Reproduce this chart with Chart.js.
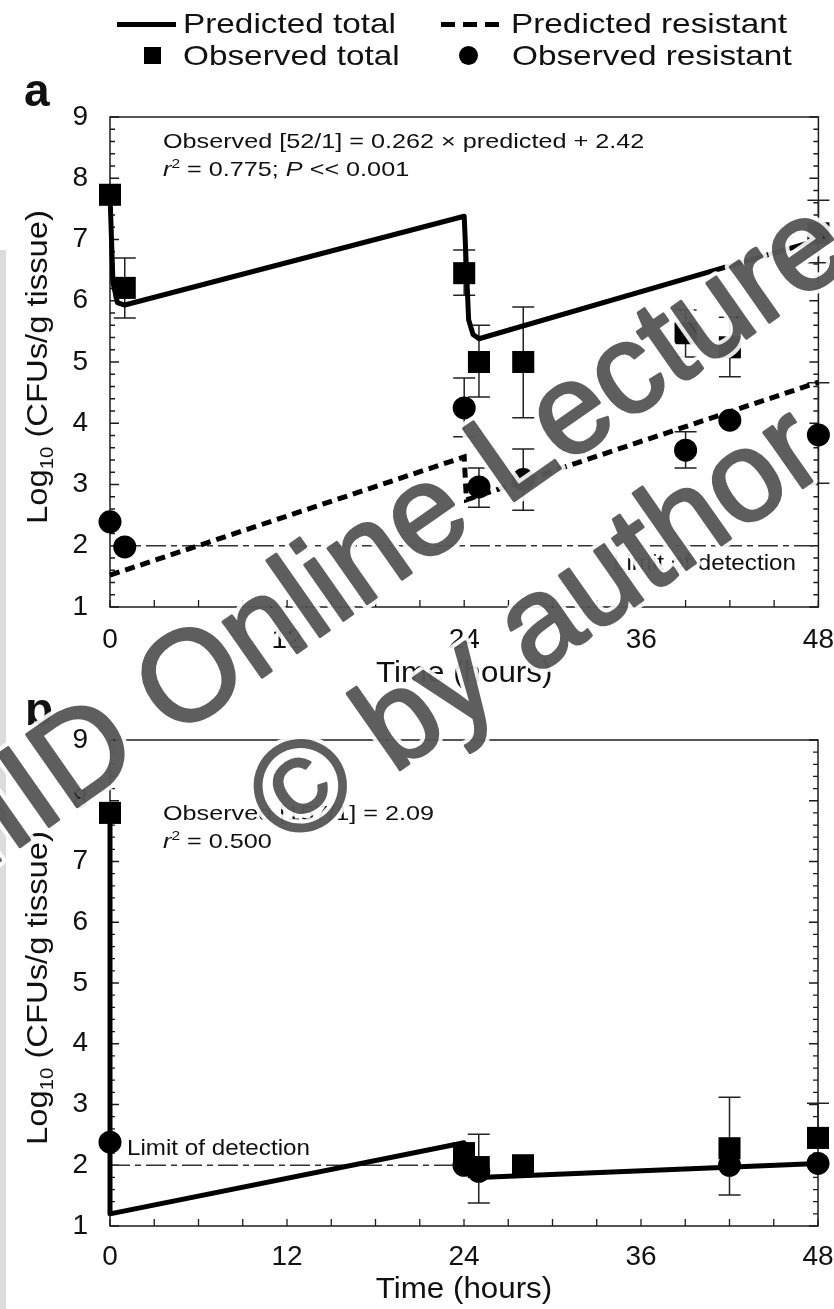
<!DOCTYPE html>
<html lang="en">
<head>
<meta charset="utf-8">
<title>Predicted and observed bacterial counts in tissue</title>
<script src="https://cdn.jsdelivr.net/npm/chart.js@4.4.1/dist/chart.umd.min.js"></script>
<style>
  html, body { margin: 0; padding: 0; background: #fff; }
  body { width: 834px; height: 1309px; position: relative; overflow: hidden;
         font-family: "Liberation Sans", Arial, sans-serif; color: #111; }
  canvas { position: absolute; left: 0; }
  #chartA { top: 0; }
  #chartB { top: 700px; }
  .leg-text { position: absolute; font-size: 28px; line-height: 28px; white-space: nowrap;
              transform-origin: 0 50%; transform: scaleX(1.19); color: #111; }
  .sw { position: absolute; background: #000; }
  .edge { position: absolute; left: 0; top: 250px; width: 6px; height: 1059px; background: #dcdcdc; }
  svg.mark { position: absolute; left: 0; top: 0; pointer-events: none; }
</style>
</head>
<body>
<canvas id="chartA" width="834" height="700"></canvas>
<canvas id="chartB" width="834" height="609"></canvas>
<div id="legend"></div>
<div class="edge"></div>
<svg class="mark" width="834" height="1309" xmlns="http://www.w3.org/2000/svg"
     xmlns:xlink="http://www.w3.org/1999/xlink">
  <defs>
    <g id="wmText" font-family="Liberation Sans, Arial, sans-serif" font-size="128">
      <text x="0" y="0">IIID Online Lecture</text>
      <text x="265" y="155">© by author</text>
    </g>
  </defs>
  <g transform="translate(-19 874) rotate(-35)">
    <use href="#wmText" xlink:href="#wmText" fill="none" stroke="#fff" stroke-width="11"
         stroke-opacity="0.9" stroke-linejoin="round"/>
    <g opacity="0.63">
      <use href="#wmText" xlink:href="#wmText" fill="#000" stroke="#000" stroke-width="3"
           stroke-linejoin="round"/>
    </g>
  </g>
</svg>
<script>
// ---------- axes ----------
const xTickValues = [0, 12, 24, 36, 48];
const yTickValues = [1, 2, 3, 4, 5, 6, 7, 8, 9];
const xMinorStep = 3;      // hours between small ticks
const yMinorStep = 0.2;    // log units between small ticks
const limitOfDetection = 2;

// ---------- panel a ----------
const aPredTotalHours = [0, 0.2, 0.5, 1, 24, 24.3, 24.6, 25, 48];
const aPredTotalLog   = [7.73, 6.3, 5.97, 5.93, 7.38, 5.69, 5.45, 5.38, 6.99];
const aPredResHours   = [0, 24, 24.15, 48];
const aPredResLog     = [1.52, 3.45, 2.75, 4.67];
const aObsHours       = [0, 1, 24, 25, 28, 39, 42, 48];
const aObsTotal       = [7.73, 6.21, 6.45, 5.0, 5.0, 5.47, 5.24, 7.1];
const aObsTotalLow    = [null, 5.72, 6.09, 4.43, 4.09, 5.08, 4.76, 6.62];
const aObsTotalHigh   = [null, 6.70, 6.83, 5.60, 5.90, 5.85, 5.73, 7.64];
const aObsRes         = [2.39, 1.98, 4.25, 2.96, 3.08, 3.56, 4.05, 3.81];
const aObsResLow      = [null, null, 3.78, 2.63, 2.58, 3.27, null, 3.02];
const aObsResHigh     = [null, null, 4.74, 3.27, 3.58, 3.86, null, 4.66];
const aLimitHours     = [0, 48];

// ---------- panel b ----------
const bPredTotalHours = [0, 0, 24, 24.5, 25, 48];
const bPredTotalLog   = [7.8, 1.2, 2.37, 1.88, 1.8, 2.03];
const bObsTotalHours  = [0, 24, 25, 28, 42, 48];
const bObsTotal       = [7.8, 2.2, 1.97, 2.0, 2.28, 2.45];
const bObsTotalLow    = [null, null, 1.38, null, 1.51, null];
const bObsTotalHigh   = [null, null, 2.51, null, 3.12, 3.02];
const bObsResHours    = [0, 24, 25, 42, 48];
const bObsRes         = [2.38, 2.0, 1.9, 2.0, 2.03];
const bLimitHours     = [0, 24];

// ---------- text ----------
const legendLabels = ['Predicted total', 'Predicted resistant', 'Observed total', 'Observed resistant'];
const panelLetters = ['a', 'b'];
const xTitle = 'Time (hours)';
const yTitleRuns = [{ text: 'Log' }, { text: '10', sub: true }, { text: ' (CFUs/g tissue)' }];
const limitLabel = 'Limit of detection';
const notesA = [
  [{ text: 'Observed [52/1] = 0.262 × predicted + 2.42' }],
  [{ text: 'r', italic: true }, { text: '2', sup: true }, { text: ' = 0.775; ' },
   { text: 'P', italic: true }, { text: ' << 0.001' }]
];
const notesB = [
  [{ text: 'Observed [157/1] = 2.09' }],
  [{ text: 'r', italic: true }, { text: '2', sup: true }, { text: ' = 0.500' }]
];

const FONT = '"Liberation Sans", Arial, sans-serif';
const pts = (xs, ys) => xs.map((x, i) => ({ x, y: ys[i] }));

// ---------- legend (HTML) ----------
(function buildLegend() {
  const host = document.getElementById('legend');
  const add = (cls, css, text) => {
    const d = document.createElement('div');
    d.className = cls;
    Object.assign(d.style, css);
    if (text) d.textContent = text;
    host.appendChild(d);
  };
  // row 1
  add('sw', { left: '117px', top: '22px', width: '59px', height: '5px' });
  add('leg-text', { left: '183px', top: '10px' }, legendLabels[0]);
  [441, 463, 485].forEach(l => add('sw', { left: l + 'px', top: '22px', width: '14px', height: '5px' }));
  add('leg-text', { left: '511px', top: '10px' }, legendLabels[1]);
  // row 2
  add('sw', { left: '144px', top: '47px', width: '17px', height: '17px' });
  add('leg-text', { left: '183px', top: '42px' }, legendLabels[2]);
  add('sw', { left: '459px', top: '46px', width: '19px', height: '19px', borderRadius: '50%' });
  add('leg-text', { left: '512px', top: '42px' }, legendLabels[3]);
})();

// ---------- drawing helpers ----------
function runsWidth(ctx, runs, size) {
  let w = 0;
  for (const r of runs) {
    const s = (r.sup || r.sub) ? size * 0.62 : size;
    ctx.font = `${r.italic ? 'italic ' : ''}${s}px ${FONT}`;
    w += ctx.measureText(r.text).width;
  }
  return w;
}
function drawRuns(ctx, runs, x, y, size, stretch, align) {
  ctx.save();
  ctx.translate(x, y);
  ctx.scale(stretch, 1);
  ctx.textBaseline = 'alphabetic';
  ctx.textAlign = 'left';
  let cx = align === 'center' ? -runsWidth(ctx, runs, size) / 2 : 0;
  for (const r of runs) {
    const s = (r.sup || r.sub) ? size * 0.62 : size;
    ctx.font = `${r.italic ? 'italic ' : ''}${s}px ${FONT}`;
    const dy = r.sup ? -size * 0.36 : r.sub ? size * 0.22 : 0;
    ctx.fillText(r.text, cx, dy);
    cx += ctx.measureText(r.text).width;
  }
  ctx.restore();
}

// frame and inward tick marks on the left, right and bottom axes
const frameTicks = {
  id: 'frameTicks',
  beforeDatasetsDraw(chart) {
    const { ctx, chartArea: a, scales: { x, y } } = chart;
    ctx.save();
    ctx.strokeStyle = '#1c1c1c';
    ctx.lineWidth = 1.5;
    ctx.strokeRect(a.left, a.top, a.right - a.left, a.bottom - a.top);
    ctx.lineWidth = 1.3;
    ctx.beginPath();
    const yMin = yTickValues[0], yMax = yTickValues[yTickValues.length - 1];
    const nY = Math.round((yMax - yMin) / yMinorStep);
    for (let i = 0; i <= nY; i++) {
      const py = y.getPixelForValue(yMin + i * yMinorStep);
      const len = (i % 5 === 0) ? 9 : 5;
      ctx.moveTo(a.left, py); ctx.lineTo(a.left + len, py);
      ctx.moveTo(a.right, py); ctx.lineTo(a.right - len, py);
    }
    const xMax = xTickValues[xTickValues.length - 1];
    for (let h = xTickValues[0]; h <= xMax; h += xMinorStep) {
      const px = x.getPixelForValue(h);
      ctx.moveTo(px, a.bottom); ctx.lineTo(px, a.bottom - 7);
    }
    ctx.stroke();
    ctx.restore();
  }
};

// vertical error bars with caps, drawn under the markers
const errorBars = {
  id: 'errorBars',
  beforeDatasetsDraw(chart, args, opts) {
    const { ctx, scales: { x, y } } = chart;
    ctx.save();
    ctx.strokeStyle = '#222';
    ctx.lineWidth = 1.5;
    for (const g of opts.groups) {
      g.t.forEach((t, i) => {
        const px = x.getPixelForValue(t);
        const pv = y.getPixelForValue(g.v[i]);
        [g.lo[i], g.hi[i]].forEach(e => {
          if (e == null) return;
          const pe = y.getPixelForValue(e);
          ctx.beginPath();
          ctx.moveTo(px, pv); ctx.lineTo(px, pe);
          ctx.moveTo(px - 11, pe); ctx.lineTo(px + 11, pe);
          ctx.stroke();
        });
      });
    }
    ctx.restore();
  }
};

// titles, notes, panel letter and the detection-limit label
const panelText = {
  id: 'panelText',
  afterDraw(chart, args, o) {
    const { ctx, chartArea: a } = chart;
    ctx.save();
    ctx.fillStyle = '#111';
    ctx.font = `bold 46px ${FONT}`;
    ctx.textBaseline = 'alphabetic';
    ctx.fillText(o.letter, o.letterX, o.letterY);
    o.notes.forEach((runs, i) => drawRuns(ctx, runs, o.noteX, o.noteY[i], 21, 1.2, 'left'));
    drawRuns(ctx, [{ text: limitLabel }], o.limitX, o.limitY, 22, 1.1, 'left');
    drawRuns(ctx, [{ text: xTitle }], (a.left + a.right) / 2, o.xTitleY, 29, 1.08, 'center');
    ctx.save();
    ctx.translate(o.yTitleX, (a.top + a.bottom) / 2 + 5);
    ctx.rotate(-Math.PI / 2);
    drawRuns(ctx, yTitleRuns, 0, 0, 29, 1.13, 'center');
    ctx.restore();
    ctx.restore();
  }
};

function makePanel(id, p) {
  const datasets = [
    { label: legendLabels[2], data: pts(p.obsTotalHours, p.obsTotal), showLine: false,
      pointStyle: 'rect', pointRadius: 15.6, pointBorderWidth: 0, backgroundColor: '#000',
      borderColor: '#000', clip: false },
    { label: legendLabels[3], data: pts(p.obsResHours, p.obsRes), showLine: false,
      pointStyle: 'circle', pointRadius: 11.5, pointBorderWidth: 0, backgroundColor: '#000',
      borderColor: '#000', clip: false },
    { label: legendLabels[0], data: pts(p.predTotalHours, p.predTotal), showLine: true,
      pointRadius: 0, borderColor: '#000', borderWidth: 5, tension: 0,
      borderJoinStyle: 'round', borderCapStyle: 'round', clip: false }
  ];
  if (p.predResHours) {
    datasets.push({ label: legendLabels[1], data: pts(p.predResHours, p.predRes), showLine: true,
      pointRadius: 0, borderColor: '#000', borderWidth: 5, borderDash: [10, 6], tension: 0,
      borderCapStyle: 'butt', clip: false });
  }
  datasets.push({ label: limitLabel, data: pts(p.limitHours, p.limitHours.map(() => limitOfDetection)),
    showLine: true, pointRadius: 0, borderColor: '#333', borderWidth: 1.3,
    borderDash: [20, 5, 6, 5], tension: 0 });

  return new Chart(document.getElementById(id), {
    type: 'scatter',
    data: { datasets },
    options: {
      responsive: false,
      animation: false,
      devicePixelRatio: 1,
      events: [],
      layout: { padding: { top: p.padTop, right: p.padRight, left: 0, bottom: 0 } },
      plugins: {
        legend: { display: false },
        tooltip: { enabled: false },
        errorBars: { groups: p.errGroups },
        panelText: p.text
      },
      scales: {
        x: {
          type: 'linear', min: xTickValues[0], max: xTickValues[xTickValues.length - 1],
          afterBuildTicks: s => { s.ticks = xTickValues.map(v => ({ value: v })); },
          grid: { display: false, drawTicks: false, tickLength: 0 },
          border: { display: false },
          ticks: { color: '#111', font: { family: FONT, size: 28 }, padding: p.xTickPad,
                   maxRotation: 0, autoSkip: false, callback: v => String(v) },
          afterFit: s => { s.height = p.xAxisH; s.paddingLeft = 0; s.paddingRight = 0; }
        },
        y: {
          type: 'linear', min: yTickValues[0], max: yTickValues[yTickValues.length - 1],
          afterBuildTicks: s => { s.ticks = yTickValues.map(v => ({ value: v })); },
          grid: { display: false, drawTicks: false, tickLength: 0 },
          border: { display: false },
          ticks: { color: '#111', font: { family: FONT, size: 28 }, padding: 22,
                   autoSkip: false, callback: v => String(v) },
          afterFit: s => { s.width = 110; s.paddingTop = 0; s.paddingBottom = 0; }
        }
      }
    },
    plugins: [frameTicks, errorBars, panelText]
  });
}

makePanel('chartA', {
  padTop: 117, padRight: 10, xAxisH: 93, xTickPad: 16,
  predTotalHours: aPredTotalHours, predTotal: aPredTotalLog,
  predResHours: aPredResHours, predRes: aPredResLog,
  obsTotalHours: aObsHours, obsTotal: aObsTotal,
  obsResHours: aObsHours, obsRes: aObsRes,
  limitHours: aLimitHours,
  errGroups: [
    { t: aObsHours, v: aObsTotal, lo: aObsTotalLow, hi: aObsTotalHigh },
    { t: aObsHours, v: aObsRes, lo: aObsResLow, hi: aObsResHigh }
  ],
  text: { letter: panelLetters[0], letterX: 24, letterY: 106, notes: notesA, noteX: 163,
          noteY: [148, 176], limitX: 613, limitY: 570, xTitleY: 682, yTitleX: 47 }
});

makePanel('chartB', {
  padTop: 40, padRight: 16, xAxisH: 83, xTickPad: 14,
  predTotalHours: bPredTotalHours, predTotal: bPredTotalLog,
  obsTotalHours: bObsTotalHours, obsTotal: bObsTotal,
  obsResHours: bObsResHours, obsRes: bObsRes,
  limitHours: bLimitHours,
  errGroups: [
    { t: bObsTotalHours, v: bObsTotal, lo: bObsTotalLow, hi: bObsTotalHigh }
  ],
  text: { letter: panelLetters[1], letterX: 25, letterY: 25, notes: notesB, noteX: 163,
          noteY: [120, 148], limitX: 127, limitY: 455, xTitleY: 598, yTitleX: 47 }
});
</script>
</body>
</html>
